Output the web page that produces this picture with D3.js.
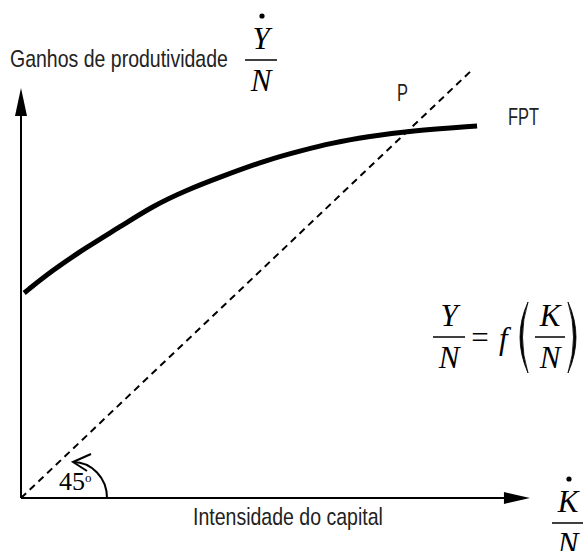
<!DOCTYPE html>
<html>
<head>
<meta charset="utf-8">
<script src="https://cdn.jsdelivr.net/npm/d3@7"></script>
<style>
  body { margin: 0; background: #fff; }
  svg { display: block; }
  .lbl { font-family: "Liberation Sans Narrow", "Arial Narrow", "Liberation Sans", sans-serif; font-size: 24px; fill: #222; }
  .math { font-family: "Liberation Serif", "Times New Roman", serif; font-style: italic; fill: #000; }
  .rom { font-family: "Liberation Serif", "Times New Roman", serif; fill: #000; }
</style>
</head>
<body>
<div id="chart"></div>
<script>
// FPT curve (axis units: 45 degree line runs 0 -> 1)
var fptX = [0.007, 0.071, 0.146, 0.219, 0.292, 0.367, 0.44, 0.544, 0.617, 0.69, 0.765, 0.861, 1.009];
var fptY = [0.478, 0.532, 0.585, 0.632, 0.681, 0.718, 0.748, 0.788, 0.809, 0.828, 0.842, 0.856, 0.867];

// the 45 degree line
var diagX = [0, 1];
var diagY = [0, 1];

// axis extents (arrow tips)
var xAxisEnd = 1.126;
var yAxisEnd = 0.956;

var yTitle = "Ganhos de produtividade";
var xTitle = "Intensidade do capital";
var curveName = "FPT";
var pointName = "P";
var angleText = "45";

var svgWidth = 583;
var svgHeight = 551;

var svg = d3.select("#chart")
  .append("svg")
  .attr("width", svgWidth)
  .attr("height", svgHeight);

var xScale = d3.scaleLinear().domain([0, 1]).range([21, 473]);
var yScale = d3.scaleLinear().domain([0, 1]).range([498, 69]);

var x0 = xScale(0), y0 = yScale(0);

// axes
svg.append("line")
  .attr("x1", x0).attr("y1", y0)
  .attr("x2", xScale(xAxisEnd) - 10).attr("y2", y0)
  .attr("stroke", "#000").attr("stroke-width", 2);
svg.append("path")
  .attr("d", "M" + xScale(xAxisEnd) + "," + y0 + " L" + (xScale(xAxisEnd) - 26) + "," + (y0 - 6) +
             " L" + (xScale(xAxisEnd) - 26) + "," + (y0 + 6) + " Z")
  .attr("fill", "#000");

svg.append("line")
  .attr("x1", x0).attr("y1", y0)
  .attr("x2", x0).attr("y2", yScale(yAxisEnd) + 10)
  .attr("stroke", "#000").attr("stroke-width", 2);
svg.append("path")
  .attr("d", "M" + x0 + "," + yScale(yAxisEnd) + " L" + (x0 - 6) + "," + (yScale(yAxisEnd) + 28) +
             " L" + (x0 + 6) + "," + (yScale(yAxisEnd) + 28) + " Z")
  .attr("fill", "#000");

// 45 degree dashed line
svg.append("path")
  .datum(d3.zip(diagX, diagY))
  .attr("d", d3.line().x(d => xScale(d[0])).y(d => yScale(d[1])))
  .attr("fill", "none")
  .attr("stroke", "#000")
  .attr("stroke-width", 2)
  .attr("stroke-dasharray", "7,5");

// FPT curve
svg.append("path")
  .datum(d3.zip(fptX, fptY))
  .attr("d", d3.line().curve(d3.curveBasis).x(d => xScale(d[0])).y(d => yScale(d[1])))
  .attr("fill", "none")
  .attr("stroke", "#000")
  .attr("stroke-width", 5);

// angle arc with open arrow head
var ax = x0 + 86, ay = y0;
var tipX = x0 + 52, tipY = y0 - 36;
svg.append("path")
  .attr("d", "M" + ax + "," + ay + " A34,36 0 0 0 " + tipX + "," + tipY)
  .attr("fill", "none").attr("stroke", "#000").attr("stroke-width", 2);
svg.append("path")
  .attr("d", "M" + (tipX + 18) + "," + (tipY - 8) + " L" + tipX + "," + tipY + " L" + (tipX + 14) + "," + (tipY + 9))
  .attr("fill", "none").attr("stroke", "#000").attr("stroke-width", 2);

var ang = svg.append("text").attr("class", "rom")
  .attr("x", x0 + 38).attr("y", y0 - 8)
  .attr("font-size", 26)
  .text(angleText);
ang.append("tspan").attr("font-size", 13).attr("dy", -8).text("o");

// text labels, squeezed horizontally to the narrow face of the original
function label(txt, x, y, w) {
  var t = svg.append("text").attr("class", "lbl").text(txt);
  var natural = t.node().getComputedTextLength();
  var sx = Math.min(1, w / natural);
  t.attr("transform", "translate(" + x + "," + y + ") scale(" + sx + ",1)");
}
label(yTitle, 10, 67, 218);
label(xTitle, 193, 525, 190);
label(curveName, 508, 125, 31);
label(pointName, 397, 101, 11);

// fraction helper
function fraction(cx, lineY, top, bottom, halfW, size, dot) {
  svg.append("text").attr("class", "math").attr("font-size", size)
    .attr("x", cx).attr("y", lineY - 11).attr("text-anchor", "middle").text(top);
  svg.append("line")
    .attr("x1", cx - halfW).attr("x2", cx + halfW)
    .attr("y1", lineY).attr("y2", lineY)
    .attr("stroke", "#000").attr("stroke-width", 1.5);
  svg.append("text").attr("class", "math").attr("font-size", size)
    .attr("x", cx).attr("y", lineY + 31).attr("text-anchor", "middle").text(bottom);
  if (dot) {
    svg.append("circle").attr("cx", cx + 1).attr("cy", lineY - 44).attr("r", 2.6).attr("fill", "#000");
  }
}

fraction(261, 60, "Y", "N", 16, 31, true);
fraction(568, 523, "K", "N", 16, 31, true);

// Y/N = f(K/N)
fraction(449, 337, "Y", "N", 16, 31, false);
svg.append("text").attr("class", "rom").attr("font-size", 31)
  .attr("x", 480).attr("y", 348).attr("text-anchor", "middle").text("=");
svg.append("text").attr("class", "math").attr("font-size", 31)
  .attr("x", 499).attr("y", 349).text("f");
svg.append("path")
  .attr("d", "M528,302 Q512,337 528,373 Q517,337 528,302 Z")
  .attr("fill", "#000").attr("stroke", "#000").attr("stroke-width", 0.8);
fraction(550, 337, "K", "N", 15, 31, false);
svg.append("path")
  .attr("d", "M568,302 Q584,337 568,373 Q579,337 568,302 Z")
  .attr("fill", "#000").attr("stroke", "#000").attr("stroke-width", 0.8);
</script>
</body>
</html>
